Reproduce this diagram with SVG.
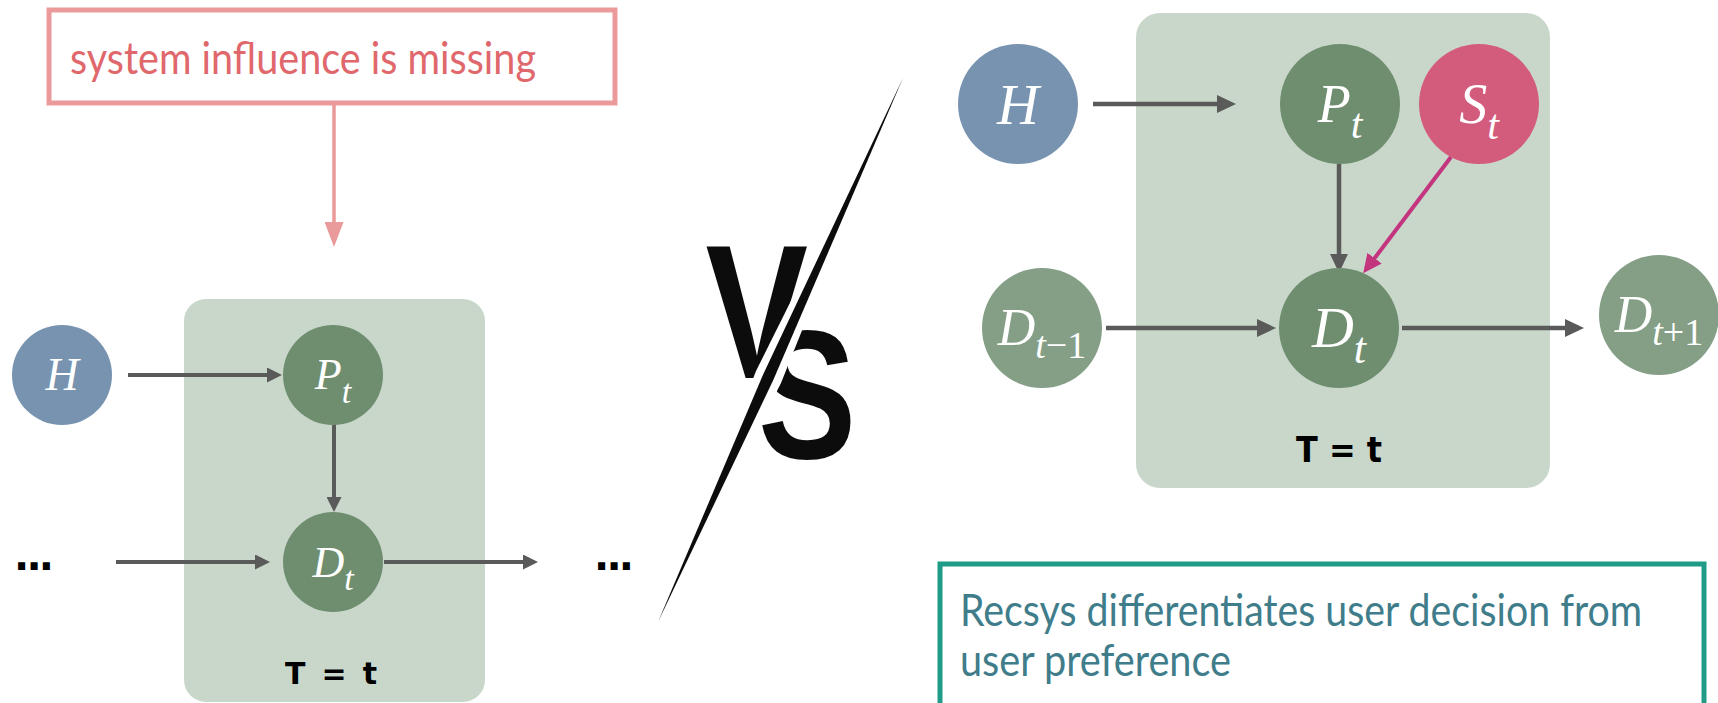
<svg xmlns="http://www.w3.org/2000/svg" width="1718" height="703" viewBox="0 0 1718 703">
  <style>
    .plate { fill: #c9d7cb; }
    .hist { fill: #7793b0; }
    .cur { fill: #6f8e6f; }
    .nbr { fill: #849f86; }
    .sys { fill: #d35c7c; }
    .lbl { font-family: "Liberation Serif", "Times New Roman", serif; font-style: italic; fill: #ffffff; text-anchor: middle; }
    .up { font-style: normal; }
    .edge { stroke: #5a5a5a; fill: none; }
    .tt { font-family: "DejaVu Sans", sans-serif; font-weight: bold; fill: #000000; }
    .dots { font-family: "DejaVu Sans", sans-serif; font-weight: bold; fill: #000000; font-size: 40px; }
    .note { font-family: Lato, "Open Sans", sans-serif; font-size: 45px; }
  </style>
  <defs>
    <marker id="ahL" markerUnits="userSpaceOnUse" markerWidth="16" markerHeight="15" refX="1" refY="7.5" orient="auto">
      <path d="M0,0 L15,7.5 L0,15 z" fill="#5a5a5a"/>
    </marker>
    <marker id="ahR" markerUnits="userSpaceOnUse" markerWidth="20" markerHeight="18" refX="1" refY="9" orient="auto">
      <path d="M0,0 L19,9 L0,18 z" fill="#5a5a5a"/>
    </marker>
    <marker id="ahM" markerUnits="userSpaceOnUse" markerWidth="20" markerHeight="18" refX="1" refY="9" orient="auto">
      <path d="M0,0 L19,9 L0,18 z" fill="#c3357f"/>
    </marker>
    <marker id="ahP" markerUnits="userSpaceOnUse" markerWidth="26" markerHeight="19" refX="1" refY="9.5" orient="auto">
      <path d="M0,0 L25,9.5 L0,19 z" fill="#ea9a9a"/>
    </marker>
  </defs>

  <!-- time-slice plates -->
  <g id="plate-left">
    <rect class="plate" x="184" y="299" width="301" height="403" rx="22"/>
    <text class="tt" x="285" y="684" font-size="30" textLength="92" lengthAdjust="spacing">T = t</text>
  </g>
  <g id="plate-right">
    <rect class="plate" x="1136" y="13" width="414" height="475" rx="24"/>
    <text class="tt" x="1296" y="462" font-size="36" textLength="86" lengthAdjust="spacingAndGlyphs">T = t</text>
  </g>

  <!-- callout boxes -->
  <g id="note-missing">
    <rect x="49" y="10" width="566" height="93" fill="#ffffff" stroke="#ea9a9a" stroke-width="5"/>
    <text class="note" x="70" y="74" fill="#e0676c" textLength="466" lengthAdjust="spacingAndGlyphs">system influence is missing</text>
  </g>
  <g id="note-recsys">
    <rect x="940" y="564" width="764" height="142" fill="#ffffff" stroke="#1f9b88" stroke-width="5"/>
    <text class="note" fill="#3f7d8b">
      <tspan x="960" y="626" textLength="682" lengthAdjust="spacingAndGlyphs">Recsys differentiates user decision from</tspan>
      <tspan x="960" y="676" textLength="271" lengthAdjust="spacingAndGlyphs">user preference</tspan>
    </text>
  </g>

  <!-- connectors -->
  <g id="connectors">
    <line x1="334" y1="104" x2="334" y2="223" stroke="#ea9a9a" stroke-width="3.5" marker-end="url(#ahP)"/>
    <line class="edge" stroke-width="4" x1="128" y1="375" x2="268" y2="375" marker-end="url(#ahL)"/>
    <line class="edge" stroke-width="4" x1="334" y1="424" x2="334" y2="498" marker-end="url(#ahL)"/>
    <line class="edge" stroke-width="4" x1="116" y1="562" x2="256" y2="562" marker-end="url(#ahL)"/>
    <line class="edge" stroke-width="4" x1="384" y1="562" x2="524" y2="562" marker-end="url(#ahL)"/>
    <line class="edge" stroke-width="4.5" x1="1093" y1="104" x2="1218" y2="104" marker-end="url(#ahR)"/>
    <line class="edge" stroke-width="4.5" x1="1339" y1="164" x2="1339" y2="255" marker-end="url(#ahR)"/>
    <line class="edge" stroke-width="4.5" x1="1106" y1="328" x2="1258" y2="328" marker-end="url(#ahR)"/>
    <line class="edge" stroke-width="4.5" x1="1402" y1="328" x2="1566" y2="328" marker-end="url(#ahR)"/>
    <line x1="1451" y1="157" x2="1374" y2="259" stroke="#c3357f" stroke-width="4" marker-end="url(#ahM)"/>
  </g>

  <!-- left model -->
  <g id="left-H">
    <circle class="hist" cx="62" cy="375" r="50"/>
    <text class="lbl" x="62" y="390" font-size="46">H</text>
  </g>
  <g id="left-P">
    <circle class="cur" cx="333" cy="375" r="50"/>
    <text class="lbl" x="333" y="389" font-size="44">P<tspan dy="14" font-size="34">t</tspan></text>
  </g>
  <g id="left-D">
    <circle class="cur" cx="333" cy="562" r="50"/>
    <text class="lbl" x="333" y="577" font-size="44">D<tspan dy="13" font-size="34">t</tspan></text>
  </g>
  <g id="left-prev">
    <text class="dots" x="14" y="570" textLength="40" lengthAdjust="spacing">...</text>
  </g>
  <g id="left-next">
    <text class="dots" x="594" y="570" textLength="40" lengthAdjust="spacing">...</text>
  </g>

  <!-- versus mark -->
  <g id="versus">
    <text transform="scale(0.8,1)" font-family="Liberation Sans, Arial, sans-serif" font-weight="bold" text-anchor="middle" fill="#0c0c0c"><tspan x="946" y="378" font-size="192">V</tspan><tspan x="1009" y="458" font-size="184">S</tspan></text>
    <polygon points="906,70 781,383 655,630 756,371" fill="#ffffff"/>
    <polygon points="903,78 773.5,379.6 658,622 763,374.8" fill="#0c0c0c"/>
  </g>

  <!-- right model -->
  <g id="right-H">
    <circle class="hist" cx="1018" cy="104" r="60"/>
    <text class="lbl" x="1018" y="124" font-size="58">H</text>
  </g>
  <g id="right-P">
    <circle class="cur" cx="1340" cy="104" r="60"/>
    <text class="lbl" x="1340" y="122" font-size="54">P<tspan dy="16" font-size="42">t</tspan></text>
  </g>
  <g id="right-S">
    <circle class="sys" cx="1479" cy="104" r="60"/>
    <text class="lbl" x="1479" y="123" font-size="56">S<tspan dy="16" font-size="42">t</tspan></text>
  </g>
  <g id="right-Dprev">
    <circle class="nbr" cx="1042" cy="328" r="60"/>
    <text class="lbl" x="1042" y="345" font-size="52">D<tspan dy="13" font-size="38">t</tspan><tspan class="up" font-size="38">−1</tspan></text>
  </g>
  <g id="right-D">
    <circle class="cur" cx="1339" cy="328" r="60"/>
    <text class="lbl" x="1339" y="347" font-size="58">D<tspan dy="16" font-size="44">t</tspan></text>
  </g>
  <g id="right-Dnext">
    <circle class="nbr" cx="1659" cy="315" r="60"/>
    <text class="lbl" x="1659" y="332" font-size="52">D<tspan dy="13" font-size="38">t</tspan><tspan class="up" font-size="38">+1</tspan></text>
  </g>
</svg>
